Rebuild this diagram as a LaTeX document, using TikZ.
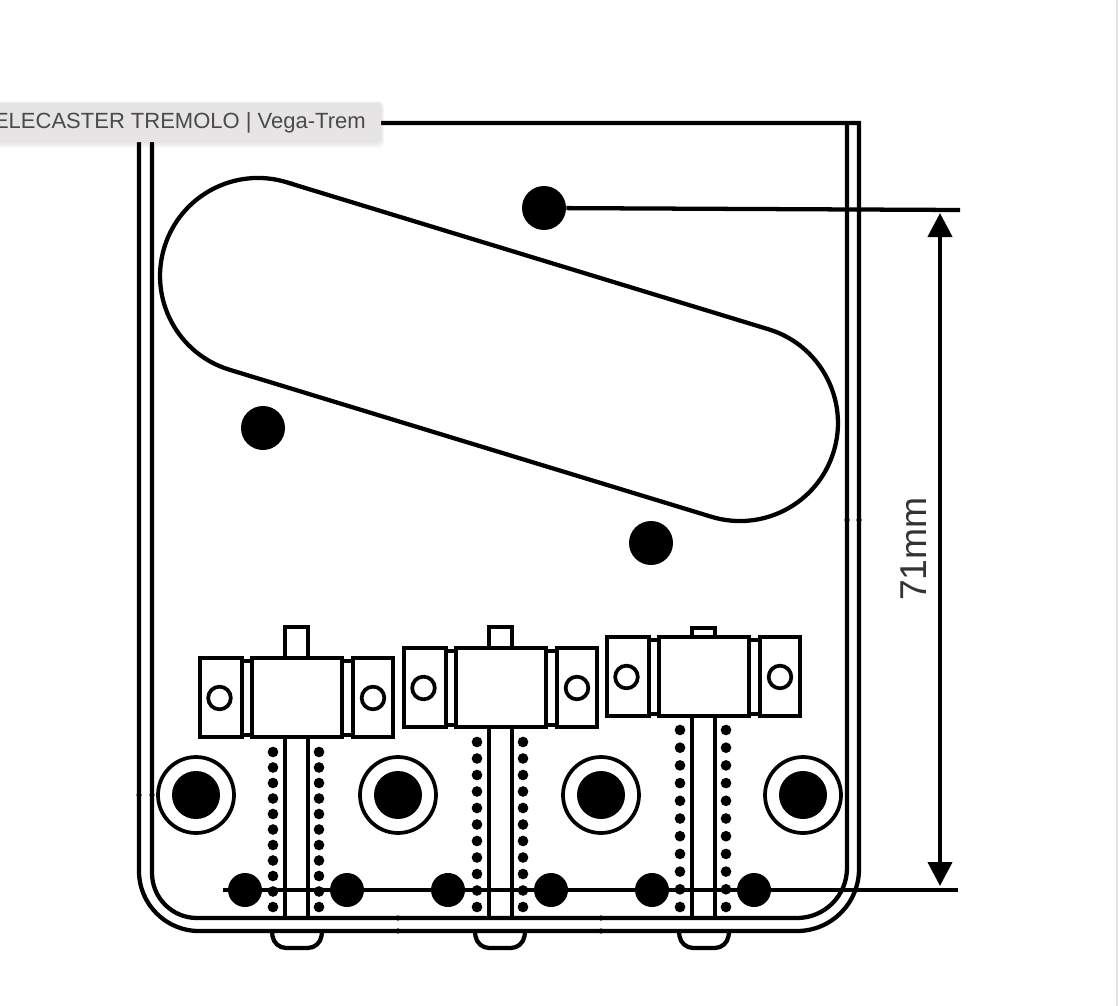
\documentclass[tikz,border=0pt]{standalone}
\usepackage{fontspec}
\setmainfont{Liberation Sans}
\usetikzlibrary{arrows.meta}
\definecolor{tipfill}{HTML}{E6E4E4}
\definecolor{tiptext}{HTML}{4A4A4A}
\definecolor{stripgrey}{HTML}{E2E2E2}
\tikzset{
  part/.style={line width=3.2pt,black},
  hole/.style={circle,fill=black,inner sep=0,minimum size=33pt},
  bolt/.style={circle,fill=black,inner sep=0,minimum size=25.5pt},
  ferrule/.style={circle,draw,line width=2.8pt,fill=white,inner sep=0,minimum size=57pt},
  ferrulecore/.style={circle,fill=black,inner sep=0,minimum size=36pt},
  screw/.style={circle,draw,line width=2.8pt,fill=white,inner sep=0,minimum size=17pt},
  pip/.style={circle,fill=black,inner sep=0,minimum size=8pt},
  tooltip/.style={fill=tipfill,rounded corners=1pt}
}
\begin{document}
\begin{tikzpicture}[x=0.75pt,y=-0.75pt]
  \useasboundingbox (0,0) rectangle (1118,1006);
  \fill[stripgrey] (1116,0) rectangle (1118,1006);

  % plate
  \draw[part,line join=miter] (139,123) -- (139,871) arc[start angle=180,end angle=90,radius=60] -- (797,931)
    arc[start angle=90,end angle=0,radius=62] -- (859,123) -- cycle;
  \draw[part] (152,123) -- (152,873) arc[start angle=180,end angle=90,radius=45] -- (797,918)
    arc[start angle=90,end angle=0,radius=50] -- (847,123);
  \foreach \tx/\ty in {847/520,859/520,139/795,152/795,398/918,398/931,601/918,601/931}
    \fill (\tx,\ty) circle[radius=2.6];
  % tabs
  \foreach \tabx in {272,475,679}
    \draw[part,rounded corners=9pt] (\tabx,932) -- (\tabx+2,948) -- (\tabx+48,948) -- (\tabx+50,932);

  % pickup
  \draw[part] (286.6,182.3) -- (768.6,329.3) arc[start angle=-73,end angle=107,radius=98]
    -- (229.4,369.7) arc[start angle=107,end angle=287,radius=98] -- cycle;

  % saddles
  \foreach \sx/\sy/\tip/\dotstart in {0/0/627/752,204/-10/627/742,407/-21/628/730}{
    \begin{scope}[shift={(\sx,\sy)}]
      \draw[part] (285,737) -- (285,918-\sy);
      \draw[part] (308,737) -- (308,918-\sy);
      \draw[part] (285,658) -- (285,\tip-\sy) -- (308,\tip-\sy) -- (308,658);
      \draw[part] (200,658) rectangle (242,737);
      \draw[part] (242,661) rectangle (252,735);
      \draw[part] (252,658) rectangle (342,737);
      \draw[part] (342,661) rectangle (353,735);
      \draw[part] (353,658) rectangle (393,737);
      \node[screw] (screwl\sx) at (219.5,698) {};
      \node[screw] (screwr\sx) at (373,698) {};
    \end{scope}
    \pgfmathsetmacro{\dotstep}{(907-\dotstart)/10}
    \foreach \n in {0,...,10}{
      \node[pip] (pipl\sx-\n) at (273+\sx,\dotstart+\n*\dotstep) {};
      \node[pip] (pipr\sx-\n) at (319+\sx,\dotstart+\n*\dotstep) {};
    }
  }

  % ferrules
  \foreach \fx in {196,398,601,803}{
    \node[ferrule] (ring\fx) at (\fx,795) {};
    \node[ferrulecore] (core\fx) at (\fx,795) {};
  }

  % mounting holes
  \node[hole] (holetop) at (544,208) {};
  \node[hole] (holeleft) at (263,428) {};
  \node[hole] (holeright) at (651,543) {};

  % bolts along the lower line
  \coordinate (lowstart) at (223,890);
  \coordinate (lowend) at (958,890);
  \coordinate (topend) at (960,210);
  \draw[part] (lowstart) -- (lowend);
  \draw[part] (holetop) -- (topend);
  \foreach \bx in {245,347,448,551,652,754}
    \node[bolt] (bolt\bx) at (\bx,890) {};

  % dimension
  \coordinate (dimtop) at (940,213);
  \coordinate (dimbot) at (940,886);
  \draw[part,{Triangle[width=18pt,length=18pt]}-{Triangle[width=18pt,length=18pt]}] (dimtop) -- (dimbot);
  \node[rotate=90,font=\fontsize{28pt}{28pt}\selectfont,text=black!80] (dimlabel) at (914,549) {71mm};

  % tooltip over the plate
  \foreach \g in {1,...,6}
    \fill[black,opacity=.014,rounded corners=3pt] (-10,103-\g/4) rectangle (381+\g/2,142+\g);
  \path[tooltip] (-10,103) rectangle (381,142);
  \node[anchor=east,inner sep=0,text=tiptext,font=\fontsize{16.5pt}{16.5pt}\selectfont] (tiplabel) at (366,123) {ELECASTER TREMOLO | Vega-Trem};
\end{tikzpicture}
\end{document}
